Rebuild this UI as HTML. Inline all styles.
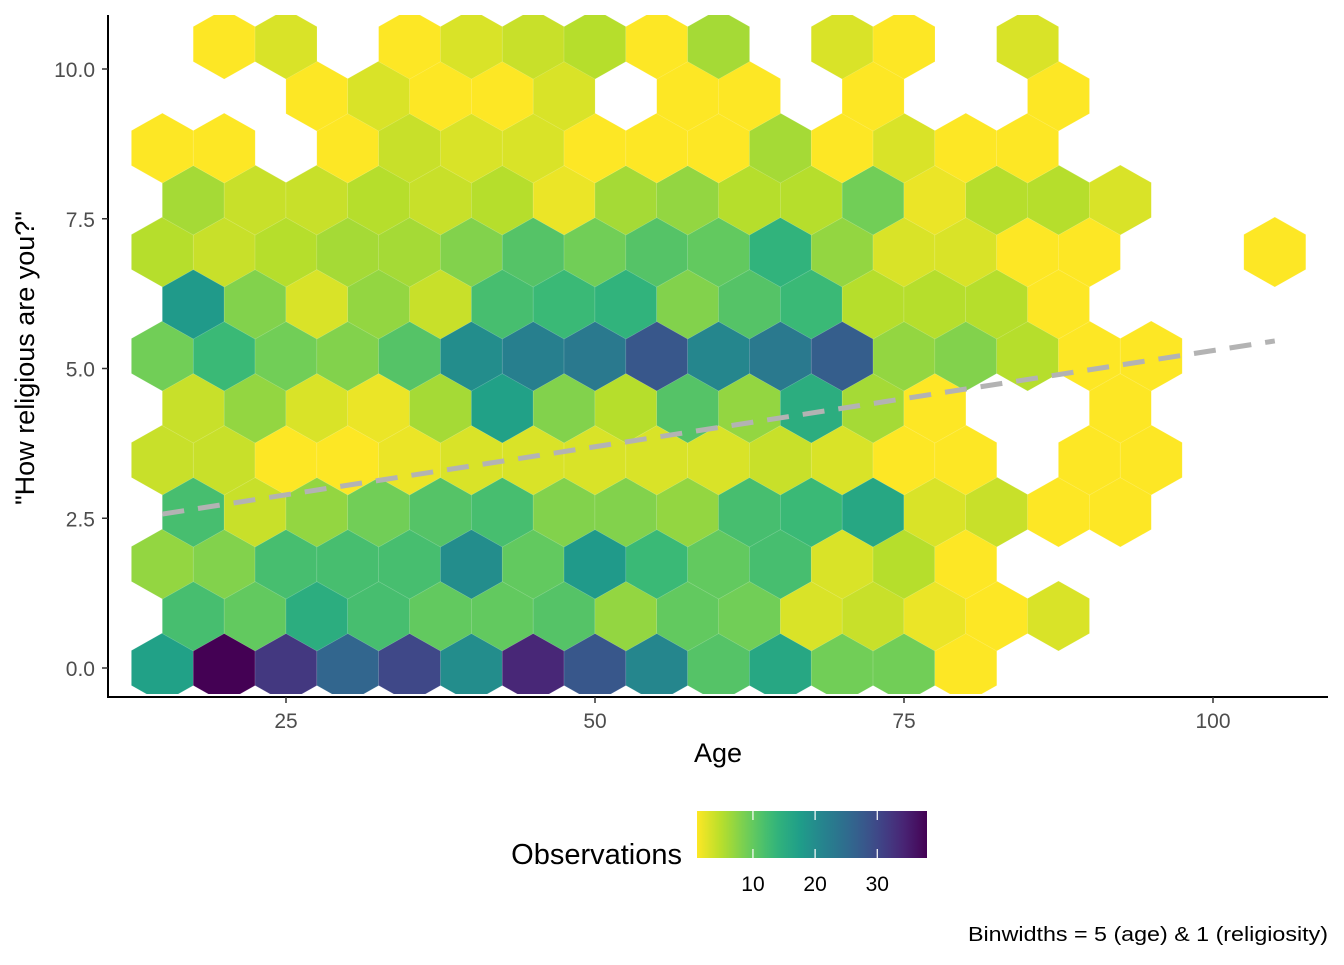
<!DOCTYPE html>
<html><head><meta charset="utf-8"><style>
body{margin:0;background:#fff;}
svg text{font-family:"Liberation Sans",Arial,sans-serif;}
</style></head><body>
<svg id="chart" width="1344" height="960" viewBox="0 0 1344 960" xmlns="http://www.w3.org/2000/svg">
<defs><linearGradient id="vir" x1="0" x2="1" y1="0" y2="0"></linearGradient>
<clipPath id="panel"><rect x="108" y="15" width="1220" height="679"/></clipPath></defs>
<g id="hexes" clip-path="url(#panel)"></g>
<g id="trend"></g>
<line x1="108" y1="15" x2="108" y2="697" stroke="#000" stroke-width="2"/>
<line x1="107" y1="697" x2="1328" y2="697" stroke="#000" stroke-width="2"/>
<g id="axes"></g>
<text x="718" y="762" font-size="27" text-anchor="middle" fill="#000">Age</text>
<text transform="translate(34,358) rotate(-90)" font-size="27" text-anchor="middle" fill="#000">"How religious are you?"</text>
<text x="682" y="864" font-size="29" text-anchor="end" fill="#000">Observations</text>
<rect x="697" y="811" width="230" height="47" fill="url(#vir)"/>
<g id="legend"></g>
<text x="968" y="941" font-size="20" textLength="360" lengthAdjust="spacingAndGlyphs" fill="#000">Binwidths = 5 (age) &amp; 1 (religiosity)</text>
</svg>
<script>
const rowY = [0, 0.868, 1.736, 2.604, 3.472, 4.34, 5.208, 6.076, 6.944, 7.812, 8.68, 9.548, 10.416];
const rowAges = [
 [15,20,25,30,35,40,45,50,55,60,65,70,75,80],
 [17.5,22.5,27.5,32.5,37.5,42.5,47.5,52.5,57.5,62.5,67.5,72.5,77.5,82.5,87.5],
 [15,20,25,30,35,40,45,50,55,60,65,70,75,80],
 [17.5,22.5,27.5,32.5,37.5,42.5,47.5,52.5,57.5,62.5,67.5,72.5,77.5,82.5,87.5,92.5],
 [15,20,25,30,35,40,45,50,55,60,65,70,75,80,90,95],
 [17.5,22.5,27.5,32.5,37.5,42.5,47.5,52.5,57.5,62.5,67.5,72.5,77.5,92.5],
 [15,20,25,30,35,40,45,50,55,60,65,70,75,80,85,90,95],
 [17.5,22.5,27.5,32.5,37.5,42.5,47.5,52.5,57.5,62.5,67.5,72.5,77.5,82.5,87.5],
 [15,20,25,30,35,40,45,50,55,60,65,70,75,80,85,90,105],
 [17.5,22.5,27.5,32.5,37.5,42.5,47.5,52.5,57.5,62.5,67.5,72.5,77.5,82.5,87.5,92.5],
 [15,20,30,35,40,45,50,55,60,65,70,75,80,85],
 [27.5,32.5,37.5,42.5,47.5,57.5,62.5,72.5,87.5],
 [20,25,35,40,45,50,55,60,70,75,85]
];
const rowCounts = [
 [17,38,32,26,30,20,34,28,21,11,16,9,9,1],
 [12,10,15,12,10,10,11,7,10,9,3,4,2,1,3],
 [7,8,12,12,12,20,10,18,13,10,12,3,5,1],
 [12,4,7,9,11,12,8,8,7,12,13,16,3,4,1,1],
 [4,4,1,1,2,3,3,3,3,3,4,3,1,1,1,1],
 [4,7,3,2,6,17,8,5,11,7,15,6,1,1],
 [9,13,9,8,11,20,22,23,28,21,23,27,7,8,5,1,1],
 [18,8,3,7,4,12,13,14,8,11,13,5,5,5,1],
 [5,4,5,6,6,8,11,9,11,10,14,7,3,3,1,1,1],
 [6,4,4,5,4,5,2,6,7,5,5,9,2,5,5,3],
 [1,1,1,4,3,3,1,1,1,6,1,3,1,1],
 [1,3,1,1,3,1,1,1,1],
 [1,3,1,3,4,5,1,6,3,1,3]
];
const trendX = [15, 105];
const trendY = [2.57, 5.46];
const xTicks = [25,50,75,100];
const yTicks = [0,2.5,5,7.5,10];
const yTickLabels = ["0.0","2.5","5.0","7.5","10.0"];
const legendTicks = [10,20,30];
const countMin = 1, countMax = 38;

const xs = v => -23 + v*12.36;
const ys = v => 668 - v*59.9;
const NS = "http://www.w3.org/2000/svg";
const vir = [[68,1,84],[72,40,120],[62,74,137],[49,104,142],[38,130,142],[31,158,137],[53,183,121],[109,205,89],[180,222,44],[253,231,37]];
function viridis(t){ t=Math.max(0,Math.min(1,t)); const p=t*(vir.length-1); const i=Math.min(Math.floor(p),vir.length-2); const f=p-i;
 const c=vir[i].map((a,k)=>Math.round(a+(vir[i+1][k]-a)*f)); return `rgb(${c[0]},${c[1]},${c[2]})`; }
function colorFor(n){ return viridis(1-(n-countMin)/(countMax-countMin)); }
function mk(tag, attrs, parent){ const e=document.createElementNS(NS,tag); for(const k in attrs) e.setAttribute(k,attrs[k]); parent.appendChild(e); return e; }

const hg = document.getElementById('hexes');
const hw = 31, r = 35;
rowAges.forEach((ages, ri) => {
  ages.forEach((a, j) => {
    const cx = xs(a), cy = ys(rowY[ri]);
    const pts = [[cx,cy-r],[cx+hw,cy-r/2],[cx+hw,cy+r/2],[cx,cy+r],[cx-hw,cy+r/2],[cx-hw,cy-r/2]].map(p=>p.join(',')).join(' ');
    const el = mk('polygon', {points: pts, fill: colorFor(rowCounts[ri][j]), stroke: 'rgba(255,255,255,0.25)', 'stroke-width': 0.6}, hg);
    
    
  });
});

const tg = document.getElementById('trend');
const tl = mk('line', {x1: xs(trendX[0]), y1: ys(trendY[0]), x2: xs(trendX[1]), y2: ys(trendY[1]), stroke: '#b3b3b3', 'stroke-width': 5, 'stroke-dasharray': '22 14'}, tg);



const ag = document.getElementById('axes');
xTicks.forEach(v => {
  const t = mk('line', {x1: xs(v), x2: xs(v), y1: 697, y2: 703, stroke: '#333', 'stroke-width': 1.5}, ag);
  
  
  const l = mk('text', {x: xs(v), y: 728, 'font-size': 21, 'text-anchor': 'middle', fill: '#4d4d4d'}, ag);
  l.textContent = v;
  
  
});
yTicks.forEach((v, i) => {
  const t = mk('line', {x1: 102, x2: 108, y1: ys(v), y2: ys(v), stroke: '#333', 'stroke-width': 1.5}, ag);
  
  
  const l = mk('text', {x: 95, y: ys(v) + 8, 'font-size': 21, 'text-anchor': 'end', fill: '#4d4d4d'}, ag);
  l.textContent = yTickLabels[i];
  
  
});

const grad = document.getElementById('vir');
for (let i = 0; i <= 20; i++) { mk('stop', {offset: (i/20), 'stop-color': viridis(1 - i/20)}, grad); }
const lg = document.getElementById('legend');
const lx = v => 697 + (v - countMin) / (countMax - countMin) * 230;
legendTicks.forEach(v => {
  const a = mk('line', {x1: lx(v), x2: lx(v), y1: 811, y2: 820, stroke: '#fff', 'stroke-width': 1.2}, lg);
  
  
  const b = mk('line', {x1: lx(v), x2: lx(v), y1: 849, y2: 858, stroke: '#fff', 'stroke-width': 1.2}, lg);
  
  
  const l = mk('text', {x: lx(v), y: 891, 'font-size': 21, 'text-anchor': 'middle', fill: '#000'}, lg);
  l.textContent = v;
  
  
});
</script>
</body></html>
